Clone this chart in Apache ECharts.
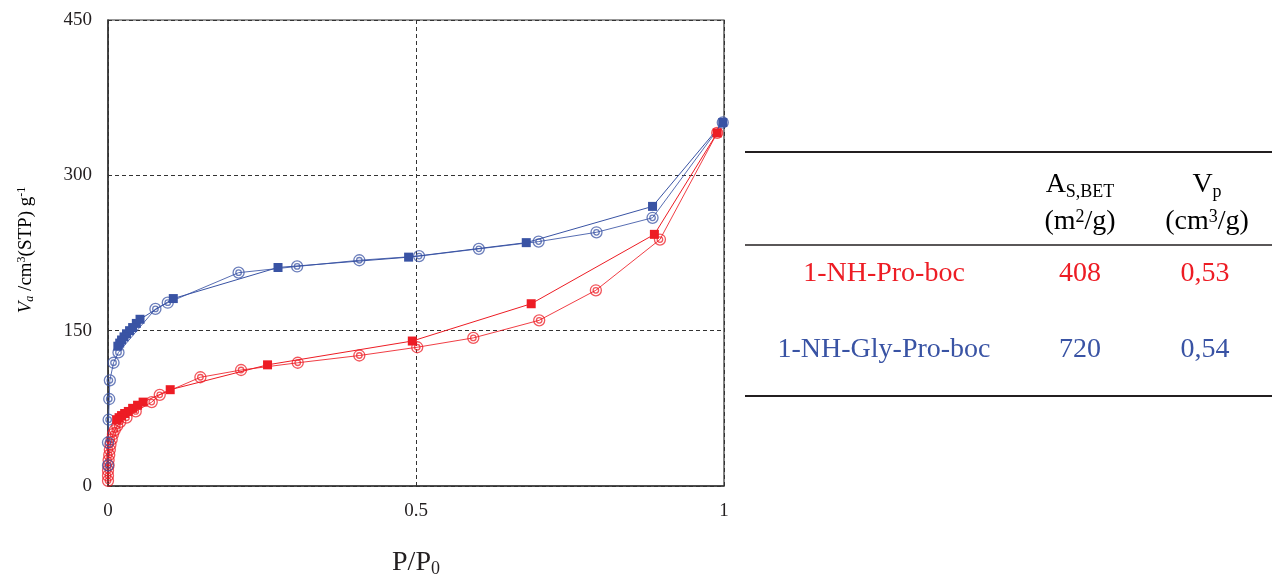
<!DOCTYPE html>
<html><head><meta charset="utf-8">
<script src="https://cdn.jsdelivr.net/npm/echarts@6/dist/echarts.min.js"></script>
<style>html,body{margin:0;padding:0;background:#fff}#c{width:1272px;height:576px}</style>
</head><body><div id="c"></div><script>
// Axis ticks
const xTicks = [0, 0.5, 1];
const yTicks = [0, 150, 300, 450];

// 1-NH-Gly-Pro-boc (blue) adsorption (open) and desorption (filled)
const blueAdsX = [0.000, 0.000, 0.001, 0.002, 0.003, 0.009, 0.017, 0.077, 0.097, 0.212, 0.307, 0.408, 0.505, 0.602, 0.699, 0.793, 0.884, 0.998];
const blueAdsY = [20, 42, 64, 84, 102, 119, 129, 171, 177, 206, 212, 218, 222, 229, 236, 245, 259, 351];
const blueDesX = [0.998, 0.884, 0.679, 0.488, 0.276, 0.106, 0.052, 0.046, 0.040, 0.035, 0.030, 0.026, 0.022, 0.019, 0.016];
const blueDesY = [351, 270, 235, 221, 211, 181, 161, 157, 153, 150, 147, 144, 141, 138, 135];

// 1-NH-Pro-boc (red)
const redAdsX = [0.000, 0.000, 0.000, 0.001, 0.001, 0.002, 0.003, 0.004, 0.006, 0.008, 0.011, 0.015, 0.020, 0.030, 0.045, 0.071, 0.084, 0.150, 0.216, 0.308, 0.408, 0.502, 0.593, 0.700, 0.792, 0.896, 0.989];
const redAdsY = [5, 10, 15, 20, 25, 30, 35, 40, 45, 50, 54, 58, 62, 66, 72, 81, 88, 105, 112, 119, 126, 134, 143, 160, 189, 238, 341];
const redDesX = [0.989, 0.887, 0.687, 0.494, 0.259, 0.101, 0.057, 0.048, 0.040, 0.033, 0.027, 0.022, 0.018, 0.014];
const redDesY = [341, 243, 176, 140, 117, 93, 81, 78, 75, 72, 70, 68, 66, 64];

// Table
const tableNames = ['1-NH-Pro-boc', '1-NH-Gly-Pro-boc'];
const tableArea = ['408', '720'];
const tableVp = ['0,53', '0,54'];

const RED = '#ED1C24', BLUE = '#3953A4', INK = '#231F20';
const SERIF = '"Liberation Serif", "DejaVu Serif", serif';
const ring = 'path://M0,10A10,10,0,1,1,20,10A10,10,0,1,1,0,10ZM5,10A5,5,0,1,1,15,10A5,5,0,1,1,5,10Z';
const pairs = (xs, ys) => xs.map((x, i) => [x, ys[i]]);

function openSeries(name, xs, ys, col) {
  return { name, type: 'line', data: pairs(xs, ys), symbol: ring, symbolSize: 11,
    lineStyle: { color: col, width: 1, opacity: 0.85 },
    itemStyle: { color: 'rgba(255,255,255,0)', borderColor: col, borderWidth: 1.3, opacity: 0.75 },
    emphasis: { disabled: true }, animation: false, z: 3 };
}
function fillSeries(name, xs, ys, col) {
  return { name, type: 'line', data: pairs(xs, ys), symbol: 'rect', symbolSize: 9,
    lineStyle: { color: col, width: 1 },
    itemStyle: { color: col, borderWidth: 0 },
    emphasis: { disabled: true }, animation: false, z: 4 };
}

const rich = {
  b: { fontSize: 28, fontFamily: SERIF, color: INK },
  sub: { fontSize: 18, fontFamily: SERIF, color: INK, verticalAlign: 'bottom', padding: [14, 0, 0, 0] },
  sup: { fontSize: 18, fontFamily: SERIF, color: INK, verticalAlign: 'top', padding: [0, 0, 10, 0] }
};

const tx = (text, x, y, color, extra) => ({ type: 'text', x, y,
  style: Object.assign({ text, fill: color, font: '28px ' + SERIF, align: 'center', verticalAlign: 'middle' }, extra || {}) });
const hline = (y, w) => ({ type: 'line', shape: { x1: 745, y1: y, x2: 1272, y2: y }, style: { stroke: INK, lineWidth: w } });

const graphics = [
  hline(152, 2), hline(245, 1.5), hline(396, 2),
  { type: 'text', x: 1080, y: 185, style: { text: '{b|A}{sub|S,BET}', rich, align: 'center', verticalAlign: 'middle' } },
  { type: 'text', x: 1080, y: 222, style: { text: '{b|(m}{sup|2}{b|/g)}', rich, align: 'center', verticalAlign: 'middle' } },
  { type: 'text', x: 1207, y: 185, style: { text: '{b|V}{sub|p}', rich, align: 'center', verticalAlign: 'middle' } },
  { type: 'text', x: 1207, y: 222, style: { text: '{b|(cm}{sup|3}{b|/g)}', rich, align: 'center', verticalAlign: 'middle' } },
  tx(tableNames[0], 884, 274, RED), tx(tableArea[0], 1080, 274, RED), tx(tableVp[0], 1205, 274, RED),
  tx(tableNames[1], 884, 350, BLUE), tx(tableArea[1], 1080, 350, BLUE), tx(tableVp[1], 1205, 350, BLUE),
  { type: 'text', x: 26, y: 250, rotation: Math.PI / 2,
    style: { text: '{i|V}{isub|a}{n| /cm}{s|3}{n|(STP) g}{s|-1}', align: 'center', verticalAlign: 'middle',
      rich: {
        i: { fontSize: 19, fontStyle: 'italic', fontFamily: SERIF, color: INK },
        isub: { fontSize: 12, fontStyle: 'italic', fontFamily: SERIF, color: INK, verticalAlign: 'bottom', padding: [8, 0, 0, 0] },
        n: { fontSize: 19, fontFamily: SERIF, color: INK },
        s: { fontSize: 12, fontFamily: SERIF, color: INK, verticalAlign: 'top', padding: [0, 0, 6, 0] }
      } } }
];

const chart = echarts.init(document.getElementById('c'), null, { renderer: 'canvas' });
chart.setOption({
  animation: false,
  backgroundColor: '#fff',
  grid: { left: 108, right: 548, top: 20, bottom: 90, outerBoundsMode: 'none', containLabel: false,
    show: true, borderColor: '#333', borderWidth: 1.2, backgroundColor: 'transparent' },
  xAxis: { type: 'value', min: xTicks[0], max: xTicks[xTicks.length - 1], interval: xTicks[1] - xTicks[0],
    name: '{p|P/P}{s|0}', nameLocation: 'middle', nameGap: 62,
    nameTextStyle: { rich: { p: { fontSize: 28, fontFamily: SERIF, color: INK }, s: { fontSize: 18, fontFamily: SERIF, color: INK, verticalAlign: 'bottom', padding: [12, 0, 0, 0] } } },
    axisLine: { lineStyle: { color: '#333', width: 1.5 } }, axisTick: { show: false },
    axisLabel: { margin: 16, fontSize: 19, fontFamily: SERIF, color: INK, formatter: v => String(v) },
    splitLine: { show: true, lineStyle: { color: '#333', type: [4, 3], width: 1 } } },
  yAxis: { type: 'value', min: yTicks[0], max: yTicks[yTicks.length - 1], interval: yTicks[1] - yTicks[0],
    axisLine: { show: true, lineStyle: { color: '#333', width: 1.5 } }, axisTick: { show: false },
    axisLabel: { margin: 16, fontSize: 19, fontFamily: SERIF, color: INK },
    splitLine: { show: true, lineStyle: { color: '#333', type: [4, 3], width: 1 } } },
  series: [
    openSeries('1-NH-Pro-boc ads', redAdsX, redAdsY, RED),
    fillSeries('1-NH-Pro-boc des', redDesX, redDesY, RED),
    openSeries('1-NH-Gly-Pro-boc ads', blueAdsX, blueAdsY, BLUE),
    fillSeries('1-NH-Gly-Pro-boc des', blueDesX, blueDesY, BLUE)
  ],
  graphic: graphics
});
</script></body></html>
